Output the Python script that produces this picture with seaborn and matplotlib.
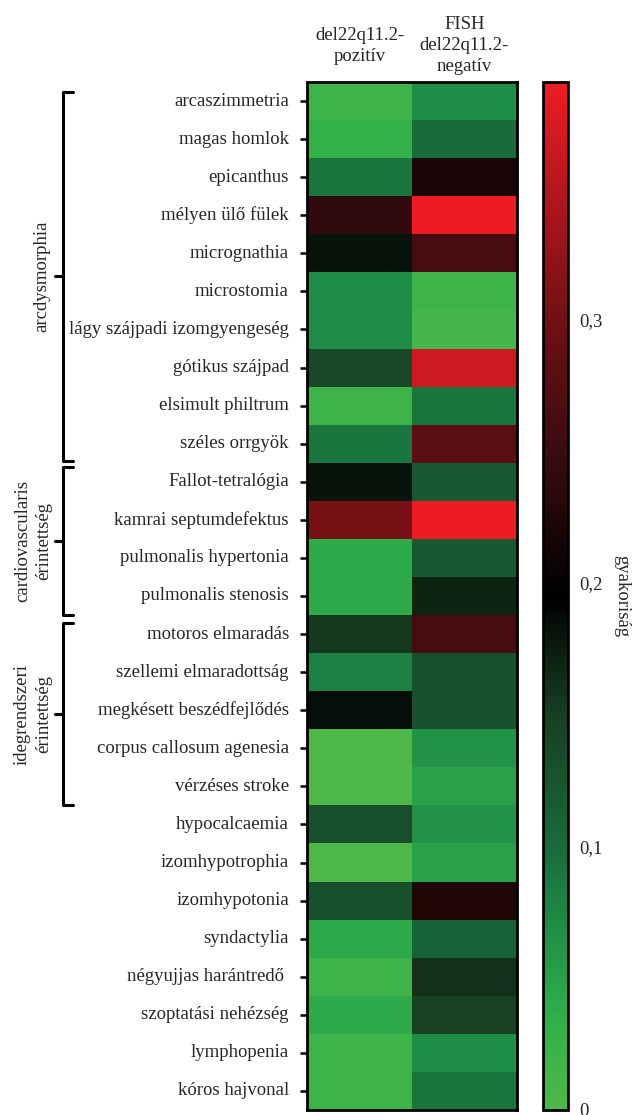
import numpy as np
import pandas as pd
import matplotlib
matplotlib.use('Agg')
import matplotlib.pyplot as plt
import matplotlib.transforms as mtransforms
from matplotlib.colors import LinearSegmentedColormap
import seaborn as sns

######################################### DATA #########################################

features = ['arcaszimmetria', 'magas homlok', 'epicanthus', 'mélyen ülő fülek',
            'micrognathia', 'microstomia', 'lágy szájpadi izomgyengeség',
            'gótikus szájpad', 'elsimult philtrum', 'széles orrgyök',
            'Fallot-tetralógia', 'kamrai septumdefektus', 'pulmonalis hypertonia',
            'pulmonalis stenosis', 'motoros elmaradás', 'szellemi elmaradottság',
            'megkésett beszédfejlődés', 'corpus callosum agenesia', 'vérzéses stroke',
            'hypocalcaemia', 'izomhypotrophia', 'izomhypotonia', 'syndactylia',
            'négyujjas harántredő ', 'szoptatási nehézség', 'lymphopenia',
            'kóros hajvonal']

columns = ['del22q11.2-\npozitív', 'FISH\ndel22q11.2-\nnegatív']

positive = [0.02, 0.03, 0.09, 0.24, 0.18, 0.07, 0.07, 0.14, 0.02, 0.09,
            0.18, 0.305, 0.04, 0.04, 0.155, 0.08, 0.185, 0.0, 0.0,
            0.13, 0.0, 0.13, 0.04, 0.02, 0.04, 0.02, 0.02]
negative = [0.07, 0.10, 0.22, 0.39, 0.26, 0.02, 0.01, 0.367, 0.09, 0.28,
            0.12, 0.39, 0.12, 0.17, 0.26, 0.13, 0.13, 0.065, 0.05,
            0.065, 0.05, 0.225, 0.11, 0.16, 0.145, 0.07, 0.09]

groups = ['arcdysmorphia', 'cardiovascularis\nérintettség', 'idegrendszeri\nérintettség']
group_rows = [(0.25, 9.95), (10.1, 14.0), (14.2, 19.0)]

cbar_ticks = [0, 0.1, 0.2, 0.3]
cbar_ticklabels = ['0', '0,1', '0,2', '0,3']

vmax = 0.39

######################################### STYLE #########################################

sns.set_style('white')
plt.rcParams['font.family'] = ['Liberation Serif', 'DejaVu Serif']
fs = 13.5

anchors = [(0.0, '#4DB848'), (0.035, '#30AF4B'), (0.07, '#1E8C46'), (0.10, '#1A6A3B'),
           (0.15, '#173F22'), (0.195, '#000000'), (0.25, '#3A0C0F'), (0.30, '#701014'),
           (0.39, '#ED1C24')]
cmap = LinearSegmentedColormap.from_list('gbr', [(v / vmax, c) for v, c in anchors])

df = pd.DataFrame({columns[0]: positive, columns[1]: negative}, index=features)

######################################### HEATMAP #########################################

fig = plt.figure(figsize=(6.43, 11.15), dpi=100)
ax = fig.add_axes([307 / 643, 5 / 1115, 210 / 643, 1028 / 1115])
cax = fig.add_axes([543 / 643, 5 / 1115, 25 / 643, 1028 / 1115])

sns.heatmap(df, ax=ax, cbar_ax=cax, cmap=cmap, vmin=0, vmax=vmax, linewidths=0)

for s in ax.spines.values():
    s.set_visible(True)
    s.set_linewidth(2)
    s.set_color('black')

ax.xaxis.tick_top()
ax.set_xticklabels(columns, rotation=0, va='center', ha='center', fontsize=fs,
                   multialignment='center', linespacing=1.3)
ax.tick_params(axis='x', length=0, pad=26)
ax.set_yticklabels(features, rotation=0, fontsize=fs)
ax.tick_params(axis='y', left=True, length=5, width=1.8, pad=8, color='black')
ax.set_xlabel('')
ax.set_ylabel('')

# colorbar
cbar = ax.collections[0].colorbar
cbar.set_ticks(cbar_ticks)
cbar.set_ticklabels(cbar_ticklabels)
cbar.outline.set_linewidth(2)
cbar.outline.set_edgecolor('black')
cax.tick_params(direction='in', left=True, right=True, length=4, width=1.5,
                labelsize=fs, pad=8)
cax.set_ylabel('gyakoriság', rotation=270, fontsize=fs, labelpad=8, va='bottom')

######################################### BRACKETS #########################################

trans = mtransforms.blended_transform_factory(ax.transAxes, ax.transData)
x_line = (63 - 307) / 210
x_serif = (73 - 307) / 210
x_nub = (55 - 307) / 210
x_text = [(42 - 307) / 210, (33 - 307) / 210, (33 - 307) / 210]

for (y0, y1), name, xt in zip(group_rows, groups, x_text):
    ym = (y0 + y1) / 2
    ax.plot([x_serif, x_line, x_line, x_serif], [y0, y0, y1, y1], color='black',
            lw=2.2, transform=trans, clip_on=False, solid_joinstyle='round')
    ax.plot([x_nub, x_line], [ym, ym], color='black', lw=2.2,
            transform=trans, clip_on=False)
    ax.text(xt, ym, name, rotation=90, ha='center', va='center', fontsize=fs,
            transform=trans, multialignment='center', linespacing=1.3)

plt.savefig('out.png', dpi=100)
